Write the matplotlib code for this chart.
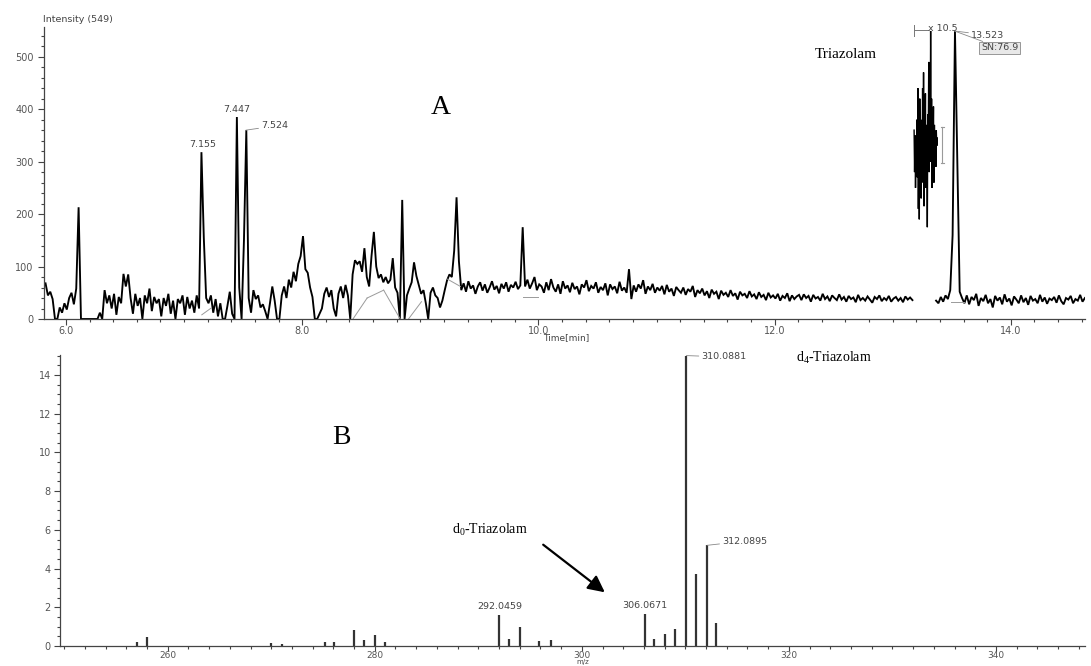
import numpy as np
import matplotlib.pyplot as plt

plt.rcParams['mathtext.fontset'] = 'custom'
plt.rcParams['mathtext.rm'] = 'Liberation Serif'
plt.rcParams['mathtext.it'] = 'Liberation Serif:italic'

W, H = 1091, 666

# --- A: chromatogram on a regular time grid ---
tic_t0, tic_dt = 5.827, 0.02
tic_vals = [
    68, 45, 52, 38, 0, 0, 22, 12, 30, 18,
    40, 50, 28, 58, 213, 0, 0, 0, 0, 0,
    0, 0, 0, 12, 0, 55, 30, 45, 20, 48,
    8, 42, 30, 86, 62, 85, 40, 10, 48, 25,
    40, 0, 45, 30, 58, 15, 42, 30, 38, 5,
    40, 25, 48, 10, 35, 0, 38, 30, 45, 8,
    42, 20, 35, 12, 45, 20, 318, 155, 40, 30,
    45, 12, 38, 5, 30, 0, 0, 25, 52, 10,
    0, 385, 60, 0, 150, 360, 40, 12, 55, 38,
    45, 22, 28, 15, 0, 30, 62, 35, 0, 0,
    45, 62, 40, 75, 60, 90, 72, 105, 120, 158,
    95, 88, 60, 42, 0, 0, 10, 20, 48, 60,
    42, 55, 20, 5, 48, 62, 40, 65, 45, 0,
    85, 112, 105, 110, 90, 135, 80, 62, 120, 166,
    100, 78, 85, 70, 80, 68, 75, 116, 60, 50,
    0, 227, 0, 45, 58, 70, 108, 82, 65, 48,
    55, 30, 0, 50, 60, 45, 40, 22, 35, 55,
    74, 85, 80, 130, 232, 110, 55, 68, 52, 72,
    58, 64, 48, 62, 70, 54, 66, 50, 60, 72,
    56, 63, 49, 67, 58, 70, 52, 65, 60, 71,
    57, 64, 175, 62, 75, 58, 68, 80, 55, 66,
    62, 50, 70, 55, 76, 60, 52, 66, 48, 72,
    58, 64, 51, 69, 57, 62, 47, 66, 60, 74,
    53, 63, 58, 70, 50, 61, 55, 68, 45, 66,
    57, 62, 49, 71, 54, 60, 50, 95, 38, 64,
    52, 66, 58, 74, 48, 62, 55, 67, 50, 60,
    54, 63, 47, 65, 52, 58, 44, 61, 55, 50,
    60, 46, 57, 52, 63, 42, 55, 49, 58, 45,
    53, 40, 56, 48, 52, 38, 54, 46, 50, 42,
    55, 44, 49, 37, 52, 45, 48, 40, 53, 43,
    47, 38, 51, 42, 46, 36, 50, 41, 45, 39,
    48, 35, 44, 40, 49, 34, 45, 38, 43, 46,
    36, 47, 40, 44, 33, 46, 39, 42, 35, 48,
    38, 43, 34, 45, 40, 36, 47, 37, 42, 33,
    44, 38, 41, 32, 46, 36, 40, 35, 43, 37,
    31, 42, 38, 45, 34, 40, 36, 44, 33, 39,
    42, 35, 40, 32, 43, 37, 41, 36,
]
# x 10.5 expanded section
zoom_t0, zoom_dt = 13.181, 0.004
zoom_vals = [
    360, 280, 350, 250, 330, 300, 380, 270, 440, 210,
    400, 190, 420, 320, 380, 230, 360, 300, 440, 260,
    470, 215, 400, 330, 430, 250, 370, 310, 175, 390,
    340, 490, 280, 420, 300, 549, 320, 420, 250, 380,
    330, 405, 260, 370, 320, 350, 290, 360, 330, 345,
]
tail_t0, tail_dt = 13.367, 0.02
tail_vals = [
    35, 30, 42, 33, 45, 38, 55, 160, 549, 300,
    52, 40, 30, 45, 28, 42, 36, 48, 25, 40,
    34, 46, 30, 38, 22, 44, 35, 41, 28, 47,
    33, 39, 26, 43, 37, 30, 45, 32, 40, 27,
    44, 35, 38, 30, 46, 33, 41, 29, 39, 36,
    42, 31, 45, 34, 28, 40, 37, 44, 30, 38,
    35, 46, 33, 40,
]
# integration baselines (t0, i0, t1, i1)
base_segs = [
    (7.15, 8, 7.23, 21), (8.43, 0, 8.55, 40), (8.55, 40, 8.69, 55),
    (8.69, 55, 8.83, 0), (8.90, 0, 9.01, 33), (9.23, 76, 9.34, 62),
    (9.87, 42, 10.0, 42), (13.49, 32, 13.60, 32),
]
peak_rt = [7.155, 7.447, 7.524, 13.523]
peak_lab = ['7.155', '7.447', '7.524', '13.523']

# --- B: mass spectrum ---
mz = [257.0, 258.0, 270.0, 271.0, 275.2, 276.1, 278.0, 279.0, 280.0, 281.0,
      292.0459, 293.0, 294.0, 295.9, 297.0, 306.0671, 307.0, 308.0, 309.0,
      310.0881, 311.0, 312.0895, 313.0]
ab = [0.22, 0.48, 0.15, 0.12, 0.2, 0.22, 0.85, 0.3, 0.55, 0.2,
      1.6, 0.36, 1.0, 0.28, 0.3, 1.65, 0.37, 0.6, 0.87,
      15.0, 3.7, 5.2, 1.2]

tick_col = '#555555'
spine_col = '#444444'


def fpx(x, y):
    return x / W, 1 - y / H


def style(ax):
    for s in ['top', 'right']:
        ax.spines[s].set_visible(False)
    for s in ['left', 'bottom']:
        ax.spines[s].set_color(spine_col)
        ax.spines[s].set_linewidth(0.9)
    ax.tick_params(which='both', direction='out', color=spine_col, width=0.8,
                   labelcolor=tick_col, labelsize=7)
    ax.tick_params(which='major', length=4.5)
    ax.tick_params(which='minor', length=2.5)
    ax.tick_params(axis='x', pad=0.5)


fig = plt.figure(figsize=(W / 100, H / 100), dpi=100)

# ---------------- panel A ----------------
ax1 = fig.add_axes([44 / W, 1 - 319 / H, (1085 - 44) / W, (319 - 27) / H])
style(ax1)
t1 = tic_t0 + tic_dt * np.arange(len(tic_vals))
t2 = zoom_t0 + zoom_dt * np.arange(len(zoom_vals))
t3 = tail_t0 + tail_dt * np.arange(len(tail_vals))
for t, v, lw in [(t1, tic_vals, 1.35), (t2, zoom_vals, 1.0), (t3, tail_vals, 1.35)]:
    ax1.plot(t, v, color='black', lw=lw, solid_joinstyle='miter')
for a, b, c, d in base_segs:
    ax1.plot([a, c], [b, d], color='#9a9a9a', lw=0.7)
ax1.plot([13.42, 13.42], [297, 366], color='#9a9a9a', lw=0.8)
ax1.plot([13.405, 13.435], [366, 366], color='#9a9a9a', lw=0.8)
ax1.plot([13.405, 13.435], [297, 297], color='#9a9a9a', lw=0.8)

ax1.set_xlim(5.814, 14.628)
ax1.set_ylim(0, 556.6)
ax1.set_xticks(np.arange(6, 14.1, 2.0))
ax1.set_xticks(np.arange(6, 14.7, 0.2), minor=True)
ax1.set_xticklabels([f'{v:.1f}' for v in np.arange(6, 14.1, 2.0)])
ax1.set_yticks(np.arange(0, 501, 100))
ax1.set_yticks(np.arange(0, 556, 20), minor=True)
ax1.tick_params(axis='y', pad=3)

t_all = np.concatenate([t1, t3])
v_all = np.concatenate([tic_vals, tail_vals])


def peak_h(rt):
    m = np.abs(t_all - rt) < 0.015
    return v_all[m].max()


lab_kw = dict(fontsize=6.8, color='#444444', family='DejaVu Sans')
lead = dict(arrowstyle='-', color='#888888', lw=0.6, shrinkA=0, shrinkB=0)
ax1.annotate(peak_lab[0], (peak_rt[0], peak_h(peak_rt[0])), xytext=(0, 2),
             textcoords='offset points', ha='center', va='bottom', **lab_kw)
ax1.annotate(peak_lab[1], (peak_rt[1], peak_h(peak_rt[1])), xytext=(0, 2),
             textcoords='offset points', ha='center', va='bottom', **lab_kw)
ax1.annotate(peak_lab[2], (peak_rt[2], peak_h(peak_rt[2])), xytext=(11, 3),
             textcoords='offset points', ha='left', va='center',
             arrowprops=lead, **lab_kw)
h13 = peak_h(peak_rt[3])
ax1.annotate(peak_lab[3], (peak_rt[3], h13), xytext=(12, -3),
             textcoords='offset points', ha='left', va='center',
             arrowprops=lead, **lab_kw)
ax1.annotate('SN:76.9', (peak_rt[3], h13), xytext=(19, -12),
             textcoords='offset points', ha='left', va='center',
             bbox=dict(boxstyle='square,pad=0.15', fc='#e8e8e8', ec='#888888', lw=0.6),
             arrowprops=lead, **lab_kw)
ax1.plot([13.18, 13.30], [551, 551], color='#777777', lw=0.7, clip_on=False)
ax1.plot([13.18, 13.18], [540, 560], color='#777777', lw=0.7, clip_on=False)
ax1.text(13.30, 553, 'x 10.5', ha='left', va='center', **lab_kw)

fig.text(*fpx(43, 19), 'Intensity (549)', ha='left', va='center',
         fontsize=6.8, color='#444444', family='DejaVu Sans')
fig.text(*fpx(566, 338), 'Time[min]', ha='center', va='center',
         fontsize=6.5, color='#444444', family='DejaVu Sans')
fig.text(*fpx(441, 108), 'A', ha='center', va='center',
         fontsize=20, family='Liberation Serif')
fig.text(*fpx(846, 55), 'Triazolam', ha='center', va='center',
         fontsize=11, family='Liberation Serif')

# ---------------- panel B ----------------
ax2 = fig.add_axes([60 / W, 1 - 646 / H, (1085 - 60) / W, (646 - 355) / H])
style(ax2)
ax2.tick_params(axis='x', which='major', length=3.5, labelsize=6.5, pad=0)
ax2.tick_params(axis='x', which='minor', length=2)
ax2.vlines(mz, 0, ab, color='#333333', lw=1.6)
ax2.set_xlim(249.6, 348.6)
ax2.set_ylim(0, 15.03)
ax2.set_xticks(np.arange(260, 341, 20))
ax2.set_xticks(np.arange(250, 349, 2), minor=True)
ax2.set_yticks(np.arange(0, 15, 2))
ax2.set_yticks(np.arange(0, 15.01, 0.5), minor=True)
ax2.tick_params(axis='y', pad=2)

for m, a in zip(mz, ab):
    if m in (292.0459, 306.0671):
        ax2.annotate(f'{m:.4f}', (m, a), xytext=(0, 3), textcoords='offset points',
                     ha='center', va='bottom', **lab_kw)
    elif m in (310.0881, 312.0895):
        ax2.annotate(f'{m:.4f}', (m, a), xytext=(11, -1 if a > 10 else 3),
                     textcoords='offset points', ha='left', va='center',
                     arrowprops=lead, **lab_kw)

fig.text(583 / W, 0.001, 'm/z', ha='center', va='bottom',
         fontsize=5, color='#444444', family='DejaVu Sans')
fig.text(*fpx(341, 437), 'B', ha='center', va='center',
         fontsize=20, family='Liberation Serif')
fig.text(*fpx(834, 358), 'd$_4$-Triazolam', ha='center', va='center',
         fontsize=10, family='Liberation Serif')
fig.text(*fpx(490, 530), 'd$_0$-Triazolam', ha='center', va='center',
         fontsize=10, family='Liberation Serif')
fig.add_artist(plt.Annotation('', xy=fpx(607, 594), xytext=fpx(541, 543),
                              xycoords='figure fraction', textcoords='figure fraction',
                              arrowprops=dict(arrowstyle='-|>,head_length=1.0,head_width=0.5',
                                              color='black', lw=1.6)))

fig.savefig('out.png', dpi=100)
